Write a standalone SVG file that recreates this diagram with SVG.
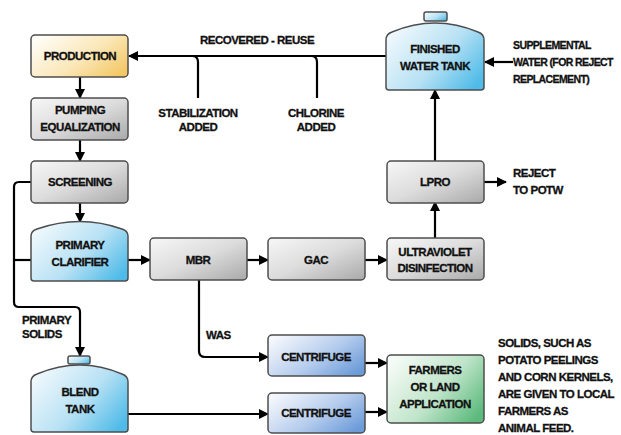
<svg xmlns="http://www.w3.org/2000/svg" width="621" height="435" viewBox="0 0 621 435">
<defs>
<linearGradient id="gGrey" x1="0" y1="0" x2="1" y2="1"><stop offset="0" stop-color="#f7f7f7"/><stop offset="0.5" stop-color="#dcdcdc"/><stop offset="1" stop-color="#a9a9a9"/></linearGradient>
<linearGradient id="gBlue" x1="0" y1="0.2" x2="1" y2="0.8"><stop offset="0" stop-color="#f2f9fd"/><stop offset="0.55" stop-color="#b7e1f4"/><stop offset="1" stop-color="#4fbbe8"/></linearGradient>
<linearGradient id="gSteel" x1="0" y1="0.2" x2="1" y2="0.8"><stop offset="0" stop-color="#f4f7fc"/><stop offset="0.55" stop-color="#b5cced"/><stop offset="1" stop-color="#6b9bd8"/></linearGradient>
<linearGradient id="gOrange" x1="0" y1="0.2" x2="1" y2="0.8"><stop offset="0" stop-color="#fffdf7"/><stop offset="0.55" stop-color="#fbe7b8"/><stop offset="1" stop-color="#f3c867"/></linearGradient>
<linearGradient id="gGreen" x1="0" y1="0.2" x2="1" y2="0.8"><stop offset="0" stop-color="#f5fbf6"/><stop offset="0.55" stop-color="#bfe4c9"/><stop offset="1" stop-color="#5cba7c"/></linearGradient>
<marker id="arr" viewBox="0 0 10 10" refX="9" refY="5" markerWidth="10" markerHeight="10" markerUnits="userSpaceOnUse" orient="auto"><path d="M0,0 L10,5 L0,10 Z" fill="#000"/></marker>
</defs>
<style>
.box{stroke:#4d4d4d;stroke-width:1.5}
.grey{fill:url(#gGrey)}
.blue{fill:url(#gBlue)}
.steel{fill:url(#gSteel)}
.orange{fill:url(#gOrange)}
.green{fill:url(#gGreen)}
text{font-family:"Liberation Sans",Arial,sans-serif;font-weight:bold;font-size:11.5px;letter-spacing:-0.5px;fill:#111;stroke:#111;stroke-width:0.3px}
.c{text-anchor:middle}
.sm{font-size:10.5px;letter-spacing:-0.6px}
.ln{fill:none;stroke:#000;stroke-width:2.2}
.ar{marker-end:url(#arr)}
</style>
<rect width="621" height="435" fill="#fff"/>
<g id="connectors">
<path class="ln ar" d="M386,56 H129"/>
<path class="ln" d="M198,98 V62 Q198,56 192,56"/>
<path class="ln" d="M317,98 V62 Q317,56 311,56"/>
<path class="ln ar" d="M80,77 V98"/>
<path class="ln ar" d="M80,140 V161"/>
<path class="ln ar" d="M80,203 V222"/>
<path class="ln ar" d="M31,182 H19 Q14,182 14,187 V302 Q14,307 19,307 H75 Q80,307 80,312 V356"/>
<path class="ln" d="M31,260 H14"/>
<path class="ln ar" d="M128,260 H150"/>
<path class="ln ar" d="M247,260 H268"/>
<path class="ln ar" d="M365,260 H387"/>
<path class="ln ar" d="M435,238 V202"/>
<path class="ln ar" d="M435,161 V90"/>
<path class="ln ar" d="M484,182 H506"/>
<path class="ln ar" d="M513,62 H485"/>
<path class="ln ar" d="M199,280 V351 Q199,357 205,357 H268"/>
<path class="ln ar" d="M128,414 H268"/>
<path class="ln ar" d="M365,363 H387"/>
<path class="ln ar" d="M365,412 H387"/>
</g>
<g id="production"><rect class="box orange" x="31" y="35" width="97" height="42" rx="4"/><text class="c" x="80" y="60">PRODUCTION</text></g>
<g id="pumping"><rect class="box grey" x="31" y="98" width="97" height="42" rx="4"/><text class="c" x="80" y="114">PUMPING</text><text class="c" x="80" y="131">EQUALIZATION</text></g>
<g id="screening"><rect class="box grey" x="31" y="161" width="97" height="42" rx="4"/><text class="c" x="80" y="186">SCREENING</text></g>
<g id="clarifier"><path class="box blue" d="M34,281 Q31,281 31,278 L31,236 Q31,231 37,229 Q80,214 122,229 Q128,231 128,236 L128,278 Q128,281 125,281 Z"/><text class="c" x="80" y="249">PRIMARY</text><text class="c" x="80" y="266">CLARIFIER</text></g>
<g id="mbr"><rect class="box grey" x="150" y="238" width="97" height="42" rx="4"/><text class="c" x="198" y="264">MBR</text></g>
<g id="gac"><rect class="box grey" x="268" y="238" width="97" height="42" rx="4"/><text class="c" x="316" y="264">GAC</text></g>
<g id="uv"><rect class="box grey" x="387" y="238" width="97" height="42" rx="4"/><text class="c" x="435" y="256">ULTRAVIOLET</text><text class="c" x="435" y="272">DISINFECTION</text></g>
<g id="lpro"><rect class="box grey" x="387" y="161" width="97" height="42" rx="4"/><text class="c" x="435" y="186">LPRO</text></g>
<g id="finished-tank"><rect class="box blue" x="424" y="12" width="23" height="9" rx="2"/><path class="box blue" d="M389,90 Q386,90 386,87 L386,40 Q386,34 392,32 Q435,14 478,32 Q484,34 484,40 L484,87 Q484,90 481,90 Z"/><text class="c" x="435" y="53">FINISHED</text><text class="c" x="435" y="70">WATER TANK</text></g>
<g id="blend-tank"><rect class="box blue" x="68" y="356" width="22" height="8" rx="2"/><path class="box blue" d="M34,432 Q31,432 31,429 L31,382 Q31,376 37,374 Q80,356 122,374 Q128,376 128,382 L128,429 Q128,432 125,432 Z"/><text class="c" x="80" y="396">BLEND</text><text class="c" x="80" y="413">TANK</text></g>
<g id="centrifuge1"><rect class="box steel" x="268" y="335" width="97" height="41" rx="4"/><text class="c" x="316" y="361">CENTRIFUGE</text></g>
<g id="centrifuge2"><rect class="box steel" x="268" y="393" width="97" height="40" rx="4"/><text class="c" x="316" y="417">CENTRIFUGE</text></g>
<g id="farmers"><rect class="box green" x="387" y="355" width="97" height="68" rx="4"/><text class="c" x="435" y="374">FARMERS</text><text class="c" x="435" y="391">OR LAND</text><text class="c" x="435" y="408">APPLICATION</text></g>
<g id="labels">
<text class="c" x="257" y="44">RECOVERED - REUSE</text>
<text class="c" x="198" y="117">STABILIZATION</text><text class="c" x="198" y="131">ADDED</text>
<text class="c" x="316" y="117">CHLORINE</text><text class="c" x="316" y="131">ADDED</text>
<text class="sm" x="513" y="49">SUPPLEMENTAL</text><text class="sm" x="513" y="66">WATER (FOR REJECT</text><text class="sm" x="513" y="83">REPLACEMENT)</text>
<text x="513" y="177">REJECT</text><text x="513" y="194">TO POTW</text>
<text x="22" y="324">PRIMARY</text><text x="22" y="338">SOLIDS</text>
<text x="206" y="339">WAS</text>
<text x="498" y="347">SOLIDS, SUCH AS</text><text x="498" y="364">POTATO PEELINGS</text><text x="498" y="381">AND CORN KERNELS,</text><text x="498" y="398">ARE GIVEN TO LOCAL</text><text x="498" y="415">FARMERS AS</text><text x="498" y="432">ANIMAL FEED.</text>
</g>
</svg>
